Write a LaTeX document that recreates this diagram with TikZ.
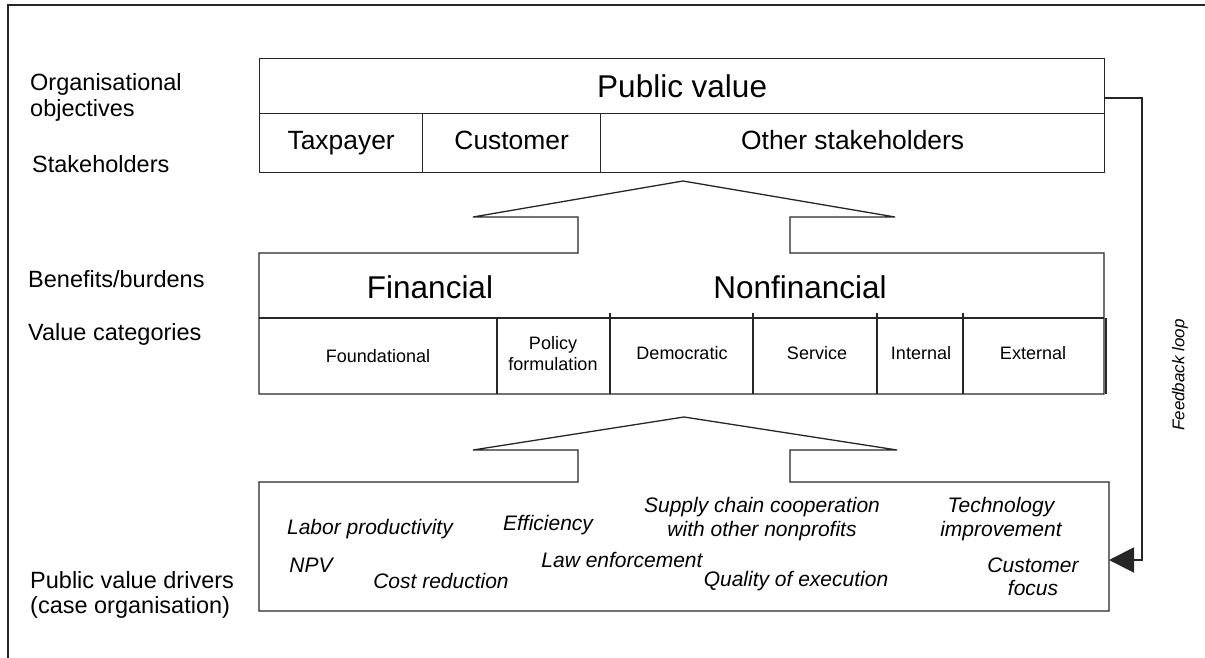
\documentclass[tikz,border=0pt]{standalone}
\usepackage{fontspec}
\setmainfont{Liberation Sans}
\usetikzlibrary{arrows.meta}
\begin{document}
\begin{tikzpicture}[x=1pt,y=-1pt,
    frame/.style={line width=1.3pt,draw=black!85},
    box/.style={frame,anchor=north west,inner sep=0},
    lbl/.style={anchor=base west,inner sep=0,font=\fontsize{23.5}{26}\selectfont},
    head/.style={inner sep=0,font=\fontsize{31.5}{34}\selectfont},
    holder/.style={text height=19pt,text depth=5.5pt,font=\fontsize{26.4}{30}\selectfont},
    cell/.style={inner sep=0,align=center,font=\fontsize{18}{21}\selectfont},
    drv/.style={inner sep=0,align=center,font=\fontsize{21}{23.5}\selectfont\itshape}]
    \useasboundingbox (0,0) rectangle (1205,658);
    \draw[frame] (1205,5) -- (8,5) -- (8,658);
    \node[lbl] (orgA) at (30,91) {Organisational};
    \node[lbl] (orgB) at (30,117) {objectives};
    \node[lbl] (stake) at (32,172) {Stakeholders};
    \node[lbl] (benef) at (28,287) {Benefits/burdens};
    \node[lbl] (valcat) at (28,340) {Value categories};
    \node[lbl] (drvA) at (30,588) {Public value drivers};
    \node[lbl] (drvB) at (30,613) {(case organisation)};
    \node[box,head,minimum width=845pt,minimum height=55pt] (pv) at (259,58) {Public value};
    \node[box,holder,minimum width=163pt,minimum height=59pt] (tax) at (259,113) {Taxpayer};
    \node[box,holder,minimum width=178pt,minimum height=59pt] (cust) at (422,113) {Customer};
    \node[box,holder,minimum width=504pt,minimum height=59pt] (other) at (600,113) {Other stakeholders};
    \draw[frame] (578,253) -- (259,253) -- (259,394) -- (1104,394) -- (1104,253) -- (790,253)
        -- (790,217) -- (895,217) -- (683,181) -- (473,217) -- (578,217) -- cycle;
    \draw[frame] (259,318) -- (1104,318);
    \draw[frame] (1106,318) -- (1106,394);
    \draw[frame,line width=2.4pt] (497,318) -- (497,394);
    \foreach \x in {610,753,877,963}
        \draw[frame] (\x,313) -- (\x,394);
    \node[head] (fin) at (430,287) {Financial};
    \node[head] (nonfin) at (800,287) {Nonfinancial};
    \node[cell] (found) at (378,356) {Foundational};
    \node[cell] (policy) at (553,354) {Policy\\formulation};
    \node[cell] (demo) at (682,353) {Democratic};
    \node[cell] (serv) at (817,353) {Service};
    \node[cell] (intern) at (921,353) {Internal};
    \node[cell] (extern) at (1033,353) {External};
    \draw[frame] (578,482) -- (259,482) -- (259,611) -- (1109,611) -- (1109,482) -- (790,482)
        -- (790,450) -- (897,450) -- (684,417) -- (473,450) -- (578,450) -- cycle;
    \node[drv] (labor) at (370,529) {Labor productivity};
    \node[drv] (effic) at (548,525) {Efficiency};
    \node[drv] (supply) at (762,519) {Supply chain cooperation\\with other nonprofits};
    \node[drv] (tech) at (1001,519) {Technology\\improvement};
    \node[drv] (npv) at (311,565) {NPV};
    \node[drv] (law) at (622,560) {Law enforcement};
    \node[drv] (cost) at (441,581) {Cost reduction};
    \node[drv] (qual) at (796,581) {Quality of execution};
    \node[drv] (custf) at (1033,577) {Customer\\focus};
    \coordinate (fbout) at (1104,98);
    \coordinate (fbin) at (1109,560);
    \draw[line width=2pt,draw=black!85,-{Triangle[length=25pt,width=25pt]}]
        (fbout) -- (1142,98) -- (1142,560) -- (fbin);
    \node[rotate=90,inner sep=0,font=\fontsize{17}{20}\selectfont\itshape] (fb) at (1180,375) {Feedback loop};
\end{tikzpicture}
\end{document}
